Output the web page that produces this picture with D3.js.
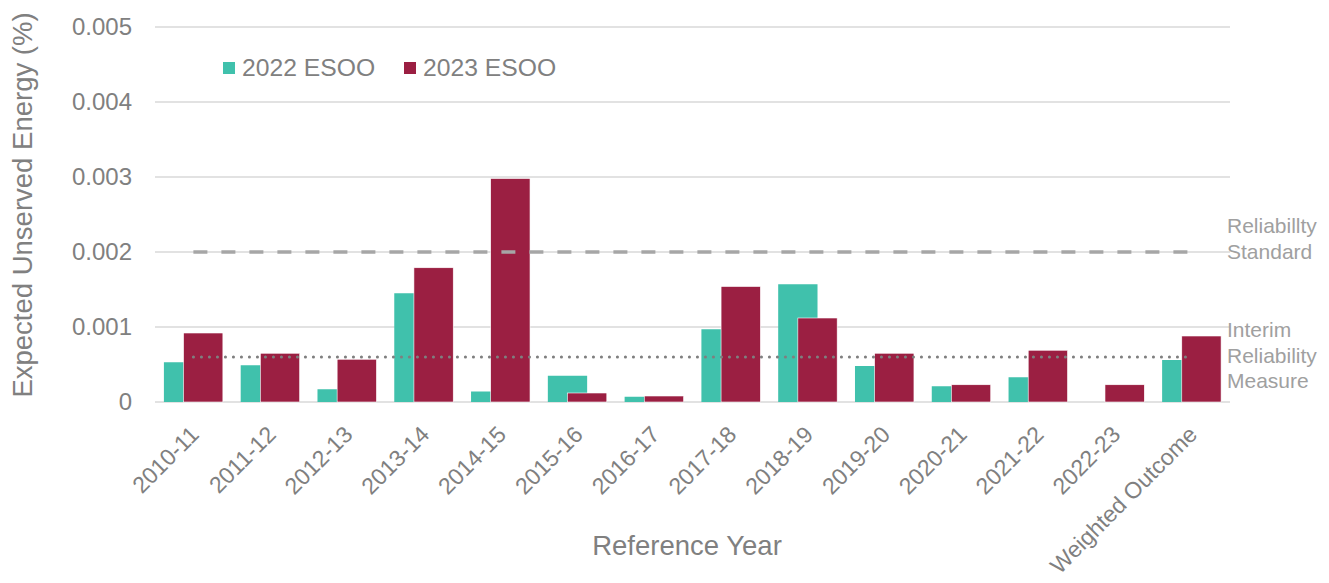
<!DOCTYPE html>
<html>
<head>
<meta charset="utf-8">
<script src="https://cdn.jsdelivr.net/npm/d3@7"></script>
<style>
  body { margin: 0; background: #fff; }
  svg { font-family: "Liberation Sans", Arial, sans-serif; }
</style>
</head>
<body>
<div id="chart"></div>
<script>
// categories and series
const years = ["2010-11", "2011-12", "2012-13", "2013-14", "2014-15", "2015-16", "2016-17",
  "2017-18", "2018-19", "2019-20", "2020-21", "2021-22", "2022-23", "Weighted Outcome"]
const esoo2022 = [0.00053, 0.00049, 0.00017, 0.00145, 0.00014, 0.00035, 0.00007,
  0.00097, 0.00157, 0.00048, 0.00021, 0.00033, 0, 0.00056]
const esoo2023 = [0.00092, 0.00065, 0.00057, 0.00179, 0.00298, 0.00012, 0.00008,
  0.00154, 0.00112, 0.00065, 0.00023, 0.00069, 0.00023, 0.00088]
const yTicks = [0, 0.001, 0.002, 0.003, 0.004, 0.005]
const reliabilityStandard = 0.002
const interimMeasure = 0.0006

const width = 1329, height = 583
const margin = {top: 27, right: 99, bottom: 181, left: 155}
const teal = "#40c1ac", maroon = "#9b1f42", grey = "#808080"

const svg = d3.select("#chart").append("svg")
  .attr("width", width)
  .attr("height", height)

const x = d3.scaleBand()
  .domain(years)
  .range([margin.left, width - margin.right])
  .padding(0)

const y = d3.scaleLinear()
  .domain([0, 0.005])
  .range([height - margin.bottom, margin.top])

// gridlines
svg.append("g")
  .selectAll("line")
  .data(yTicks)
  .join("line")
    .attr("x1", margin.left)
    .attr("x2", width - margin.right)
    .attr("y1", d => y(d))
    .attr("y2", d => y(d))
    .attr("stroke", "#d9d9d9")
    .attr("stroke-width", 1.5)

// y tick labels
svg.append("g")
  .selectAll("text")
  .data(yTicks)
  .join("text")
    .attr("x", 132)
    .attr("y", d => y(d))
    .attr("dy", "0.35em")
    .attr("text-anchor", "end")
    .attr("font-size", 24)
    .attr("fill", grey)
    .text(d => d === 0 ? "0" : d3.format(".3f")(d))

// bars: 50% overlap, 2023 drawn over 2022
const bw = x.bandwidth() * 0.512
const mid = d => x(d) + x.bandwidth() / 2

svg.append("g")
  .selectAll("rect")
  .data(years)
  .join("rect")
    .attr("x", (d) => mid(d) - bw * 0.75)
    .attr("y", (d, i) => y(esoo2022[i]))
    .attr("width", bw)
    .attr("height", (d, i) => y(0) - y(esoo2022[i]))
    .attr("fill", teal)

svg.append("g")
  .selectAll("rect")
  .data(years)
  .join("rect")
    .attr("x", (d) => mid(d) - bw * 0.25)
    .attr("y", (d, i) => y(esoo2023[i]))
    .attr("width", bw)
    .attr("height", (d, i) => y(0) - y(esoo2023[i]))
    .attr("fill", maroon)
    .attr("stroke", "#fff")
    .attr("stroke-width", 0.6)

// reference lines
const first = mid(years[0]), last = mid(years[years.length - 1])
svg.append("line")
  .attr("x1", first).attr("x2", last)
  .attr("y1", y(reliabilityStandard)).attr("y2", y(reliabilityStandard))
  .attr("stroke", "#a6a6a6")
  .attr("stroke-width", 3.5)
  .attr("stroke-dasharray", "14,14")

svg.append("line")
  .attr("x1", first).attr("x2", last)
  .attr("y1", y(interimMeasure)).attr("y2", y(interimMeasure))
  .attr("stroke", "#7f7f7f")
  .attr("stroke-width", 3)
  .attr("stroke-linecap", "round")
  .attr("stroke-dasharray", "0.1,7.9")

// right-hand notes
const note = (lines, y0) => {
  const t = svg.append("text")
    .attr("font-size", 21)
    .attr("fill", "#a0a0a0")
  lines.forEach((s, i) => t.append("tspan").attr("x", 1227).attr("y", y0 + i * 25.5).text(s))
}
note(["Reliabillty", "Standard"], 233)
note(["Interim", "Reliability", "Measure"], 337)

// x labels
svg.append("g")
  .selectAll("text")
  .data(years)
  .join("text")
    .attr("transform", d => `translate(${mid(d) + 7},${436}) rotate(-45)`)
    .attr("text-anchor", "end")
    .attr("font-size", 23)
    .attr("fill", grey)
    .text(d => d)

// axis titles
svg.append("text")
  .attr("x", 687)
  .attr("y", 555)
  .attr("text-anchor", "middle")
  .attr("font-size", 27.5)
  .attr("fill", grey)
  .text("Reference Year")

svg.append("text")
  .attr("transform", "translate(32,205) rotate(-90)")
  .attr("text-anchor", "middle")
  .attr("font-size", 27.5)
  .attr("fill", grey)
  .text("Expected Unserved Energy (%)")

// legend
const legend = [["2022 ESOO", teal, 223], ["2023 ESOO", maroon, 404]]
legend.forEach(([label, c, lx]) => {
  svg.append("rect")
    .attr("x", lx).attr("y", 62)
    .attr("width", 12).attr("height", 12)
    .attr("fill", c)
  svg.append("text")
    .attr("x", lx + 19).attr("y", 76)
    .attr("font-size", 24.7)
    .attr("fill", grey)
    .text(label)
})
</script>
</body>
</html>
